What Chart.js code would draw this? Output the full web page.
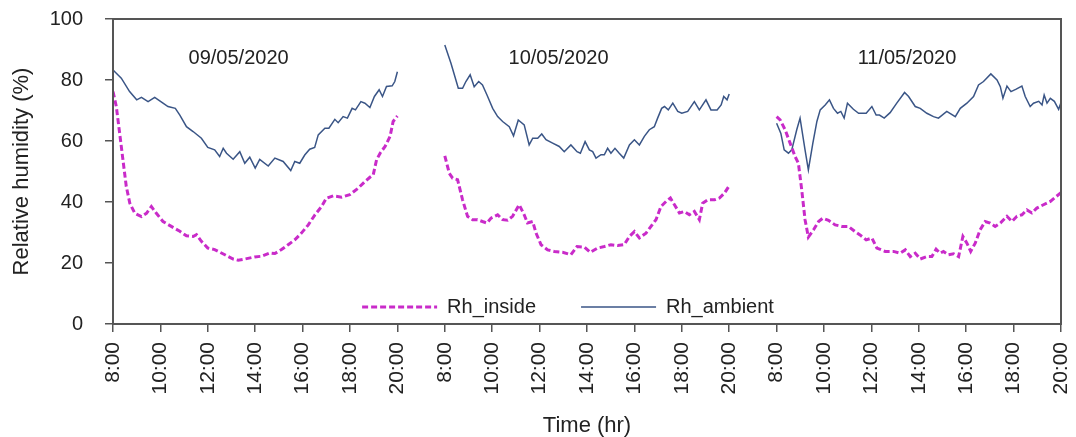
<!DOCTYPE html>
<html>
<head>
<meta charset="utf-8">
<script src="https://cdn.jsdelivr.net/npm/chart.js@4.4.1/dist/chart.umd.min.js"></script>
<style>
    html, body { margin: 0; padding: 0; background: #fff; }
    #wrap { width: 1076px; height: 437px; }
</style>
</head>
<body>
<div id="wrap"><canvas id="myChart" width="1076" height="437"></canvas></div>
<script>
var days = ['09/05/2020', '10/05/2020', '11/05/2020'];
var hourTicks = ['8:00', '10:00', '12:00', '14:00', '16:00', '18:00', '20:00'];

// hours of day (decimal) and RH values, one pair per day and series
var day1InsideHr = [8.0, 8.14, 8.28, 8.42, 8.56, 8.71, 8.92, 9.2, 9.41, 9.62, 9.83, 10.11, 10.46, 10.82, 11.1, 11.38, 11.52, 11.73, 12.0, 12.29, 12.72, 13.07, 13.28, 13.56, 13.98, 14.26, 14.62, 14.83, 15.11, 15.39, 15.67, 15.95, 16.24, 16.52, 16.8, 17.0, 17.29, 17.64, 17.99, 18.34, 18.63, 18.84, 18.98, 19.12, 19.27, 19.48, 19.69, 19.82, 20.0];
var day1InsideRh = [76.2, 71.3, 62.6, 53.8, 45.1, 39.6, 36.3, 35.2, 36.3, 38.5, 36.3, 33.6, 32.0, 30.4, 28.9, 28.7, 29.3, 27.1, 24.9, 24.4, 22.7, 21.3, 20.9, 21.3, 22.0, 22.2, 23.3, 23.1, 24.4, 26.0, 27.6, 29.8, 32.5, 35.8, 38.5, 41.2, 42.0, 41.6, 42.4, 44.5, 46.7, 48.1, 48.9, 53.8, 56.0, 58.2, 61.5, 66.4, 68.2];
var day1AmbientHr = [8.0, 8.35, 8.7, 9.0, 9.2, 9.48, 9.76, 10.11, 10.32, 10.63, 10.82, 11.1, 11.38, 11.73, 12.0, 12.29, 12.5, 12.65, 12.79, 13.07, 13.35, 13.56, 13.77, 14.0, 14.19, 14.55, 14.83, 15.18, 15.5, 15.67, 15.88, 16.09, 16.3, 16.51, 16.66, 16.94, 17.11, 17.36, 17.5, 17.71, 17.89, 18.09, 18.23, 18.46, 18.63, 18.84, 19.03, 19.23, 19.37, 19.54, 19.78, 19.89, 20.0];
var day1AmbientRh = [83.3, 80.6, 76.2, 73.5, 74.3, 72.9, 74.3, 72.4, 71.3, 70.7, 68.5, 64.7, 63.1, 60.9, 57.9, 57.1, 54.9, 57.6, 56.0, 54.0, 56.5, 52.7, 54.7, 51.1, 54.0, 51.8, 54.4, 53.3, 50.3, 53.3, 52.7, 55.4, 57.3, 57.9, 62.0, 64.2, 64.2, 67.1, 66.0, 68.0, 67.5, 70.7, 70.2, 72.9, 72.4, 71.0, 74.6, 76.8, 74.6, 77.9, 78.1, 79.5, 82.7];

var day2InsideHr = [8.0, 8.19, 8.33, 8.54, 8.75, 8.96, 9.17, 9.38, 9.59, 9.78, 9.95, 10.23, 10.44, 10.65, 10.86, 11.14, 11.35, 11.49, 11.71, 11.85, 12.06, 12.34, 12.62, 12.97, 13.32, 13.58, 13.89, 14.14, 14.45, 14.73, 15.01, 15.29, 15.57, 15.79, 16.0, 16.21, 16.49, 16.7, 16.91, 17.12, 17.34, 17.52, 17.69, 17.9, 18.11, 18.32, 18.53, 18.74, 18.88, 19.1, 19.38, 19.59, 19.8, 20.0];
var day2InsideRh = [55.1, 49.4, 47.8, 47.3, 40.7, 35.3, 34.2, 34.2, 33.6, 33.1, 34.7, 35.8, 34.2, 34.0, 35.3, 39.1, 35.8, 33.1, 33.6, 29.8, 26.0, 24.3, 23.8, 23.5, 22.7, 25.4, 25.2, 23.5, 24.9, 25.4, 26.0, 25.7, 26.0, 28.7, 30.3, 28.2, 29.8, 32.0, 34.2, 38.5, 40.2, 41.3, 39.1, 36.4, 36.9, 35.8, 36.9, 34.2, 39.6, 40.7, 40.7, 41.3, 42.9, 45.3];
var day2AmbientHr = [8.0, 8.26, 8.57, 8.75, 8.89, 9.07, 9.24, 9.43, 9.59, 9.78, 10.02, 10.23, 10.44, 10.72, 10.9, 11.1, 11.35, 11.56, 11.71, 11.92, 12.09, 12.27, 12.55, 12.83, 13.04, 13.32, 13.58, 13.72, 13.92, 14.1, 14.24, 14.38, 14.59, 14.73, 14.87, 15.01, 15.18, 15.36, 15.55, 15.79, 16.0, 16.21, 16.42, 16.63, 16.84, 16.98, 17.15, 17.27, 17.43, 17.62, 17.83, 18.0, 18.25, 18.53, 18.74, 19.02, 19.23, 19.49, 19.66, 19.77, 19.91, 20.0];
var day2AmbientRh = [91.5, 85.5, 77.3, 77.3, 79.5, 81.7, 77.8, 79.5, 78.4, 75.1, 70.7, 68.0, 66.4, 64.7, 61.7, 66.9, 65.3, 58.7, 60.9, 60.9, 62.3, 60.4, 59.3, 58.2, 56.5, 58.7, 56.5, 56.0, 59.8, 57.1, 56.5, 54.4, 55.5, 55.5, 57.6, 56.0, 57.6, 56.0, 54.4, 58.7, 60.4, 58.7, 61.5, 63.7, 64.7, 67.5, 70.7, 71.3, 70.2, 72.4, 69.7, 69.1, 69.7, 72.9, 70.2, 73.5, 70.2, 70.2, 71.8, 74.6, 73.5, 75.4];

var day3InsideHr = [8.0, 8.15, 8.36, 8.57, 8.78, 8.92, 9.06, 9.2, 9.34, 9.56, 9.77, 9.95, 10.19, 10.47, 10.75, 11.03, 11.31, 11.52, 11.78, 12.02, 12.23, 12.58, 12.93, 13.21, 13.43, 13.64, 13.85, 14.06, 14.34, 14.55, 14.73, 14.9, 15.04, 15.25, 15.47, 15.68, 15.86, 16.03, 16.19, 16.38, 16.59, 16.8, 17.01, 17.22, 17.44, 17.72, 17.93, 18.14, 18.35, 18.56, 18.77, 18.98, 19.26, 19.55, 19.8, 20.0];
var day3InsideRh = [68.0, 66.9, 63.7, 59.3, 54.9, 52.7, 44.0, 34.2, 28.5, 30.9, 33.6, 34.7, 34.0, 32.5, 32.0, 32.0, 30.3, 29.2, 27.6, 28.2, 24.9, 23.8, 23.8, 23.2, 24.3, 22.1, 23.2, 21.3, 22.1, 22.1, 24.5, 23.2, 23.8, 22.7, 23.0, 22.1, 28.7, 26.5, 23.8, 26.5, 30.9, 33.6, 33.1, 32.0, 33.1, 35.3, 33.6, 35.3, 35.8, 37.4, 36.4, 38.0, 39.1, 40.2, 41.8, 43.1];
var day3AmbientHr = [8.0, 8.18, 8.32, 8.5, 8.64, 8.85, 8.99, 9.2, 9.34, 9.53, 9.7, 9.84, 10.05, 10.23, 10.4, 10.57, 10.71, 10.85, 10.99, 11.24, 11.46, 11.78, 12.02, 12.2, 12.34, 12.54, 12.79, 13.07, 13.4, 13.57, 13.85, 14.06, 14.34, 14.62, 14.83, 15.18, 15.54, 15.75, 16.03, 16.31, 16.52, 16.73, 17.04, 17.3, 17.44, 17.55, 17.72, 17.89, 18.11, 18.35, 18.49, 18.7, 18.84, 19.06, 19.2, 19.29, 19.41, 19.55, 19.72, 19.9, 20.0];
var day3AmbientRh = [65.8, 62.5, 57.1, 56.0, 57.1, 63.7, 67.5, 57.1, 50.5, 59.3, 66.4, 70.2, 71.8, 73.5, 70.7, 69.1, 69.7, 67.5, 72.4, 70.4, 69.1, 69.1, 71.3, 68.5, 68.5, 67.5, 69.3, 72.4, 75.9, 74.6, 71.3, 70.7, 69.1, 68.0, 67.5, 69.7, 68.0, 70.7, 72.4, 74.6, 78.4, 79.5, 82.0, 80.0, 77.8, 74.0, 78.0, 76.2, 77.0, 78.0, 74.6, 71.3, 72.4, 73.0, 71.8, 75.1, 72.4, 74.0, 73.0, 70.4, 72.6];

var FONT = '"Liberation Sans", Arial, sans-serif';
var TEXT = '#222';
var AXIS = '#555';

// each day takes 6 slots of 2 h on the x axis, next day starts one slot later
var toX = function (day, hr) {
    return day * 7 + (hr - 8) / 2;
};

var buildSeries = function (hrs, vals) {
    var pts = [];
    for (var d = 0; d < hrs.length; d++) {
        if (d > 0) pts.push({x: d * 7 - 0.5, y: null});
        for (var i = 0; i < hrs[d].length; i++) {
            pts.push({x: toX(d, hrs[d][i]), y: vals[d][i]});
        }
    }
    return pts;
};

var insidePts = buildSeries([day1InsideHr, day2InsideHr, day3InsideHr], [day1InsideRh, day2InsideRh, day3InsideRh]);
var ambientPts = buildSeries([day1AmbientHr, day2AmbientHr, day3AmbientHr], [day1AmbientRh, day2AmbientRh, day3AmbientRh]);

var dayLabelHr = [13.3, 12.8, 13.5];

var framePlugin = {
    id: 'frame',
    beforeDraw: function (chart) {
        // legend sits inside the plot, just above the x axis
        var lg = chart.legend;
        lg.top = 307 - 45 - 10;
        lg.bottom = lg.top + 100;
        lg.left = 30;
        lg.right = 1076 + 30;
    },
    afterDatasetsDraw: function (chart) {
        var c = chart.ctx, a = chart.chartArea;
        c.save();
        c.strokeStyle = AXIS;
        c.lineWidth = 2;
        c.strokeRect(a.left, a.top, a.right - a.left, a.bottom - a.top);

        c.fillStyle = TEXT;
        c.font = '20px ' + FONT;
        c.textAlign = 'center';
        c.textBaseline = 'middle';
        for (var d = 0; d < days.length; d++) {
            c.fillText(days[d], chart.scales.x.getPixelForValue(toX(d, dayLabelHr[d])), chart.scales.y.getPixelForValue(87.2));
        }
        c.restore();
    }
};

var ctx = document.getElementById('myChart').getContext('2d');
var myChart = new Chart(ctx, {
    type: 'line',
    data: {
        datasets: [{
            label: 'Rh_inside',
            data: insidePts,
            borderColor: '#c92bc9',
            borderWidth: 3,
            borderDash: [6, 3],
            pointRadius: 0,
            tension: 0,
            spanGaps: false
        }, {
            label: 'Rh_ambient',
            data: ambientPts,
            borderColor: '#3a5586',
            borderWidth: 1.5,
            pointRadius: 0,
            tension: 0,
            spanGaps: false
        }]
    },
    options: {
        responsive: false,
        animation: false,
        devicePixelRatio: 1,
        layout: {padding: {top: 19, right: 15, bottom: 0, left: 0}},
        plugins: {
            legend: {
                position: 'bottom',
                maxHeight: 0.01,
                labels: {
                    usePointStyle: true,
                    pointStyle: 'line',
                    pointStyleWidth: 75,
                    padding: 45,
                    color: TEXT,
                    font: {family: FONT, size: 20},
                    generateLabels: function (chart) {
                        var items = Chart.defaults.plugins.legend.labels.generateLabels(chart);
                        items.forEach(function (it) {
                            var ds = chart.data.datasets[it.datasetIndex];
                            it.lineDash = ds.borderDash || [];
                            it.lineWidth = ds.borderWidth;
                            it.strokeStyle = ds.borderColor;
                        });
                        return items;
                    }
                }
            },
            tooltip: {enabled: false}
        },
        scales: {
            x: {
                type: 'linear',
                min: 0,
                max: 20,
                afterFit: function (s) {
                    s.height = 113;
                    s.paddingLeft = 0;
                    s.paddingRight = 0;
                },
                border: {display: false},
                grid: {drawOnChartArea: false, tickLength: 8, color: AXIS, lineWidth: 1.5},
                ticks: {
                    stepSize: 1,
                    autoSkip: false,
                    minRotation: 90,
                    maxRotation: 90,
                    padding: 10,
                    color: TEXT,
                    font: {family: FONT, size: 21},
                    callback: function (v) { return hourTicks[v % 7]; }
                },
                title: {display: true, text: 'Time (hr)', color: TEXT, font: {family: FONT, size: 22}, padding: {top: 0, bottom: -2}}
            },
            y: {
                min: 0,
                max: 100,
                afterFit: function (s) {
                    s.width = 113;
                    s.paddingTop = 0;
                    s.paddingBottom = 0;
                },
                border: {display: false},
                grid: {drawOnChartArea: false, tickLength: 8, color: AXIS, lineWidth: 1.5},
                ticks: {stepSize: 20, padding: 22, color: TEXT, font: {family: FONT, size: 20}},
                title: {display: true, text: 'Relative humidity (%)', color: TEXT, font: {family: FONT, size: 22}, padding: {top: 9, bottom: 0}}
            }
        }
    },
    plugins: [framePlugin]
});
</script>
</body>
</html>
